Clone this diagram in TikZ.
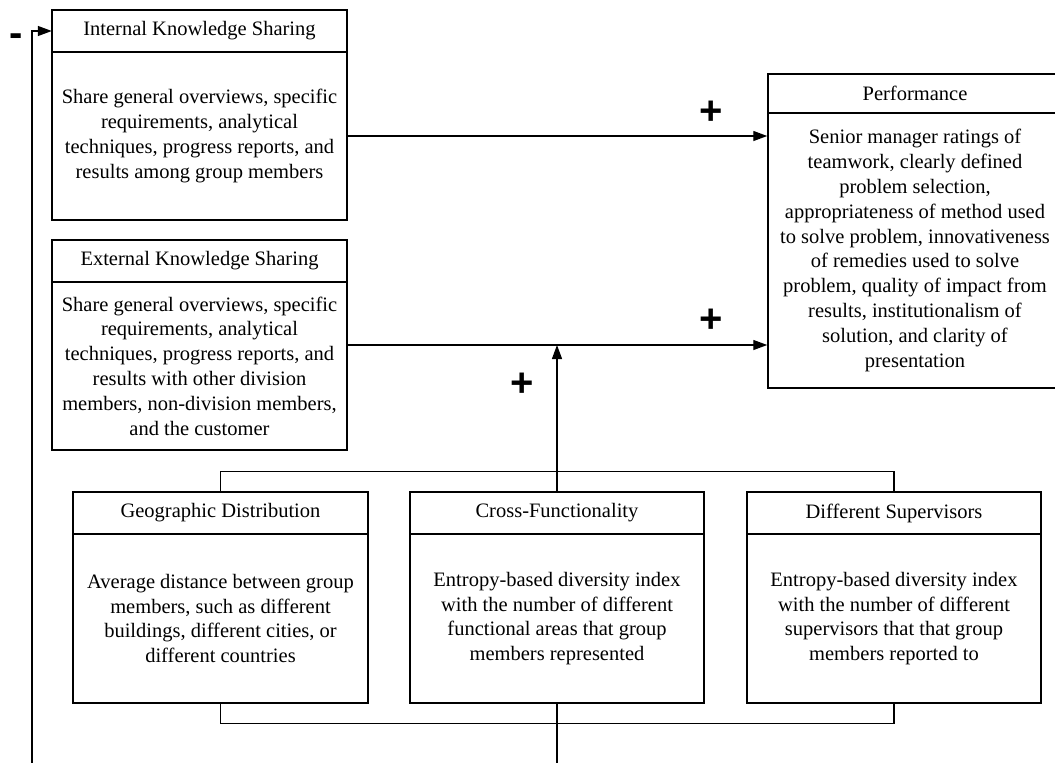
\documentclass[tikz,border=0pt]{standalone}
\usepackage{fontspec}
\setmainfont{Liberation Serif}
\newfontfamily\signfont{Liberation Sans}
\usetikzlibrary{arrows.meta,calc}

% name, x1, y1, x2, y2, y of the title rule, title, body
\newcommand\makepanel[8]{%
  \node[panel, minimum width={#4-#2}, minimum height={#5-#3}] (#1) at ({(#2+#4)/2},{(#3+#5)/2}) {};
  \node[zone, minimum width={#4-#2}, minimum height={#6-#3}] (#1T) at ({(#2+#4)/2},{(#3+#6)/2}) {#7};
  \node[zone, minimum width={#4-#2}, minimum height={#5-#6}] (#1B) at ({(#2+#4)/2},{(#6+#5)/2}) {#8};
  \draw[boxline] (#1T.south west) -- (#1T.south east);
}

\begin{document}
\begin{tikzpicture}[x=1pt,y=-1pt,
  boxline/.style={line width=1.5pt},
  panel/.style={draw, boxline, inner sep=0pt},
  zone/.style={inner sep=0pt, align=center, font=\fontsize{20.5}{24.8}\selectfont},
  link/.style={line width=1.3pt},
  conn/.style={line width=1.3pt, -{Triangle[length=14pt,width=10pt]}},
  sign/.style={inner sep=0pt, font=\signfont\bfseries\fontsize{40}{40}\selectfont}
]
\useasboundingbox (0,0) rectangle (1055,763);
\clip (0,0) rectangle (1055,763);

\makepanel{int}{52}{10}{347}{220}{52}{Internal Knowledge Sharing}{%
  Share general overviews, specific\\ requirements, analytical\\
  techniques, progress reports, and\\ results among group members}

\makepanel{ext}{52}{240}{347}{450}{282}{External Knowledge Sharing}{%
  Share general overviews, specific\\ requirements, analytical\\
  techniques, progress reports, and\\ results with other division\\
  members, non-division members,\\ and the customer}

\makepanel{perf}{768}{74}{1062}{388}{113}{Performance}{%
  Senior manager ratings of\\ teamwork, clearly defined\\ problem selection,\\
  appropriateness of method used\\ to solve problem, innovativeness\\
  of remedies used to solve\\ problem, quality of impact from\\
  results, institutionalism of\\ solution, and clarity of\\ presentation}

\makepanel{geo}{73}{492}{368}{703}{534}{Geographic Distribution}{%
  Average distance between group\\ members, such as different\\
  buildings, different cities, or\\ different countries}

\makepanel{cross}{410}{492}{704}{703}{534}{Cross-Functionality}{%
  Entropy-based diversity index\\ with the number of different\\
  functional areas that group\\ members represented}

\makepanel{diff}{747}{492}{1041}{703}{534}{Different Supervisors}{%
  Entropy-based diversity index\\ with the number of different\\
  supervisors that that group\\ members reported to}

% free ends at the lower edge
\coordinate (fbfoot) at (32,763);

% knowledge sharing to performance
\draw[conn] (intB.east) -- (intB.east -| perf.west);
\draw[conn] (ext.east) -- (ext.east -| perf.west);

% diversity brackets
\draw[link] (geo.north) -- ++(0,-20) -| (diff.north);
\draw[link] (geo.south) -- ++(0,20) -| (diff.south);
\draw[conn] (cross.north) -- (cross.north |- ext.east);
\draw[link] (cross.south) -- (cross.south |- fbfoot);

% feedback loop
\draw[conn] (fbfoot) |- (intT.west);

% signs
\node[sign] (p1) at (711,113) {+};
\node[sign] (p2) at (711,321) {+};
\node[sign] (p3) at (522,385) {+};
\node[sign] (m1) at (16,40) {-};
\end{tikzpicture}
\end{document}
